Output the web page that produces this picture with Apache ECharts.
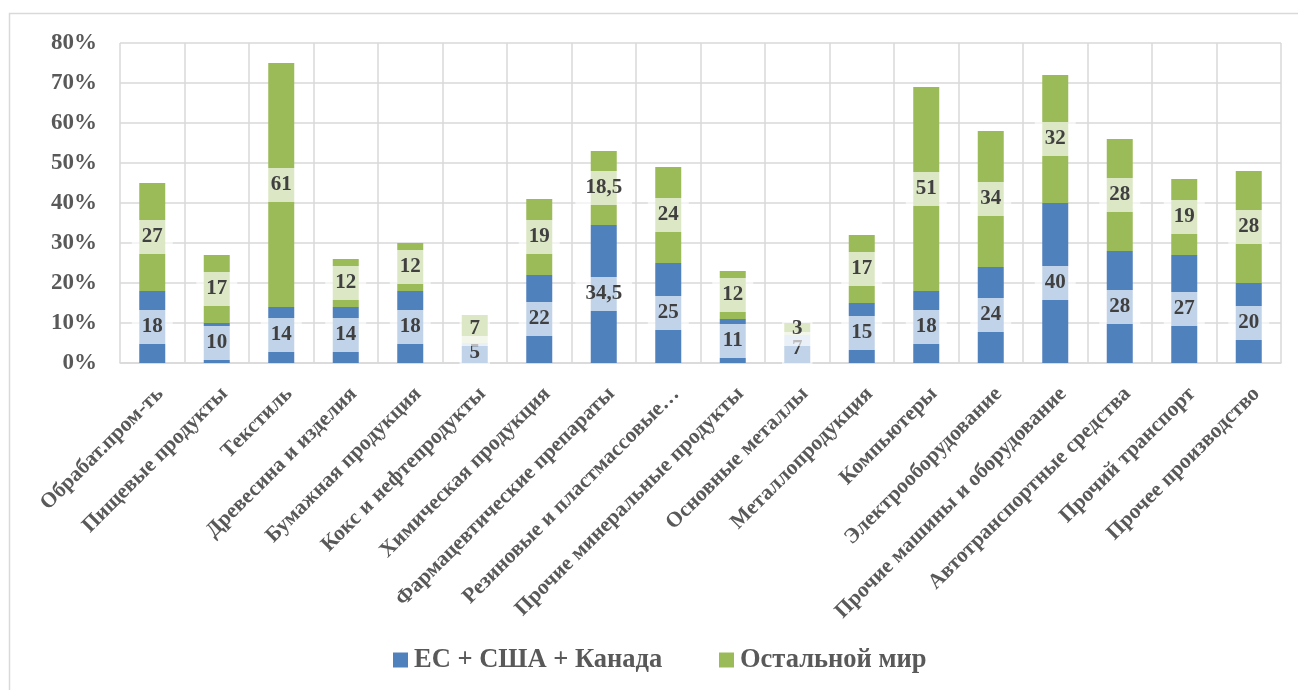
<!DOCTYPE html>
<html>
<head>
<meta charset="utf-8">
<script src="https://cdn.jsdelivr.net/npm/echarts@6/dist/echarts.min.js"></script>
<style>
  html, body { margin: 0; padding: 0; background: #fff; }
  #chart { width: 1298px; height: 690px; }
</style>
</head>
<body>
<div id="chart"></div>
<script>
// Industry categories
const categories = [
  'Обрабат.пром-ть',
  'Пищевые продукты',
  'Текстиль',
  'Древесина и изделия',
  'Бумажная продукция',
  'Кокс и нефтепродукты',
  'Химическая продукция',
  'Фармацевтические препараты',
  'Резиновые и пластмассовые…',
  'Прочие минеральные продукты',
  'Основные металлы',
  'Металлопродукция',
  'Компьютеры',
  'Электрооборудование',
  'Прочие машины и оборудование',
  'Автотранспортные средства',
  'Прочий транспорт',
  'Прочее производство'
];

// Shares, percent
const euUsCanada = [18, 10, 14, 14, 18, 5, 22, 34.5, 25, 11, 7, 15, 18, 24, 40, 28, 27, 20];
const restOfWorld = [27, 17, 61, 12, 12, 7, 19, 18.5, 24, 12, 3, 17, 51, 34, 32, 28, 19, 28];

const seriesNames = ['ЕС + США + Канада', 'Остальной мир'];
const seriesColors = ['#4f81bd', '#9bbb59'];

const yMin = 0;
const yMax = 80;
const yStep = 10;

const SERIF = "'Liberation Serif', 'Times New Roman', serif";
const GRID_COLOR = '#d9d9d9';
const TEXT_GRAY = '#595959';

const valueLabel = {
  show: true,
  position: 'inside',
  fontFamily: SERIF,
  fontWeight: 'bold',
  fontSize: 21,
  color: '#404040',
  backgroundColor: 'rgba(255,255,255,0.65)',
  padding: [7, 10, 6, 10],
  formatter: p => String(p.value).replace('.', ',')
};

// Legend drawn as graphic items (swatch + serif caption) along the bottom
const legendX = [393, 719];
const legendY = 660;
const legendGraphics = [];
seriesNames.forEach((name, i) => {
  legendGraphics.push({
    type: 'rect',
    shape: { x: legendX[i], y: legendY - 7.5, width: 15, height: 15 },
    style: { fill: seriesColors[i] },
    silent: true
  });
  legendGraphics.push({
    type: 'text',
    x: legendX[i] + 21,
    y: legendY,
    style: {
      text: name,
      fontFamily: "'Liberation Serif', 'DejaVu Serif', serif",
      fontWeight: 'bold',
      fontSize: 26.5,
      fill: TEXT_GRAY,
      verticalAlign: 'middle',
      align: 'left'
    },
    silent: true
  });
});

const chart = echarts.init(document.getElementById('chart'), null, { renderer: 'canvas' });

chart.setOption({
  animation: false,
  backgroundColor: '#ffffff',
  textStyle: { fontFamily: SERIF },
  graphic: [{
    type: 'rect',
    shape: { x: 9.5, y: 13.5, width: 1310, height: 700 },
    style: { fill: 'none', stroke: GRID_COLOR, lineWidth: 1.5 },
    silent: true,
    z: -10
  }].concat(legendGraphics),
  grid: { left: 120, right: 17, top: 43, bottom: 327, containLabel: false },
  legend: { show: false, data: seriesNames },
  xAxis: {
    type: 'category',
    data: categories,
    boundaryGap: true,
    axisLine: { show: true, lineStyle: { color: GRID_COLOR, width: 1.5 } },
    axisTick: { show: false },
    splitLine: { show: true, interval: 0, lineStyle: { color: GRID_COLOR, width: 1.5 } },
    axisLabel: {
      interval: 0,
      rotate: 45,
      margin: 20,
      verticalAlign: 'top',
      fontFamily: SERIF,
      fontWeight: 'bold',
      fontSize: 21.5,
      color: TEXT_GRAY
    }
  },
  yAxis: {
    type: 'value',
    min: yMin,
    max: yMax,
    interval: yStep,
    axisLine: { show: false },
    axisTick: { show: false },
    splitLine: { show: true, lineStyle: { color: GRID_COLOR, width: 1.5 } },
    axisLabel: {
      margin: 23,
      formatter: '{value}%',
      fontFamily: SERIF,
      fontWeight: 'bold',
      fontSize: 23,
      color: TEXT_GRAY
    }
  },
  series: [
    {
      name: seriesNames[0],
      type: 'bar',
      stack: 'total',
      barWidth: 26,
      data: euUsCanada,
      itemStyle: { color: seriesColors[0] },
      label: valueLabel
    },
    {
      name: seriesNames[1],
      type: 'bar',
      stack: 'total',
      barWidth: 26,
      data: restOfWorld,
      itemStyle: { color: seriesColors[1] },
      label: valueLabel
    }
  ]
});
</script>
</body>
</html>
